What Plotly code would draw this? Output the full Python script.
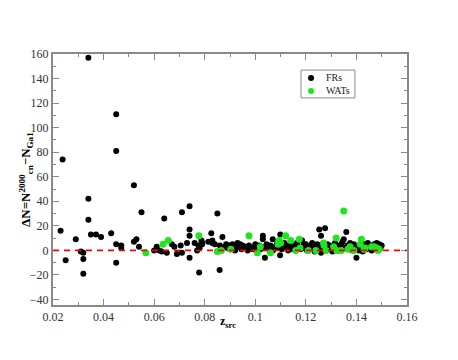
import plotly.graph_objects as go

# FRs (black points): z_src and Delta N
fr_z = [0.023, 0.0238, 0.025, 0.029, 0.031, 0.032, 0.032, 0.032, 0.034, 0.034, 0.034, 0.035,
        0.037, 0.039, 0.043, 0.045, 0.045, 0.045, 0.045, 0.047, 0.047, 0.052, 0.052, 0.053,
        0.054, 0.055, 0.060, 0.061, 0.062, 0.063, 0.064, 0.065, 0.067, 0.068, 0.069, 0.0705,
        0.071, 0.071, 0.073, 0.074, 0.074, 0.074, 0.074, 0.076, 0.077, 0.0775, 0.078, 0.0778,
        0.079, 0.0787, 0.079, 0.0814, 0.0826, 0.083, 0.083, 0.084, 0.085, 0.0859, 0.086, 0.087,
        0.087,
        0.088, 0.0885, 0.089, 0.0895, 0.090, 0.0905, 0.091, 0.0915, 0.092, 0.0925, 0.093, 0.0935,
        0.094, 0.0945, 0.095, 0.0955, 0.096, 0.097, 0.0975, 0.098, 0.099, 0.0995, 0.100, 0.1005,
        0.101, 0.1015, 0.102, 0.103, 0.103, 0.1025, 0.1038, 0.104, 0.1045, 0.105, 0.1055, 0.106,
        0.1069, 0.1065, 0.107, 0.108, 0.1085, 0.109, 0.1099, 0.1098, 0.110, 0.1105, 0.111, 0.1115,
        0.112, 0.1125, 0.113, 0.1135, 0.114, 0.1145, 0.115, 0.1155, 0.116, 0.1165, 0.117, 0.1185,
        0.118, 0.119, 0.1195, 0.120, 0.1205, 0.121, 0.1215, 0.122, 0.1225, 0.123, 0.1235, 0.124,
        0.1245, 0.1253, 0.126, 0.1276, 0.125, 0.1255, 0.126, 0.1265, 0.127, 0.1275, 0.128, 0.1285,
        0.129, 0.1295, 0.130, 0.1305, 0.131, 0.1315, 0.132, 0.1325, 0.133, 0.1335, 0.134, 0.1345,
        0.135, 0.1355, 0.136, 0.1365, 0.137, 0.1375, 0.138, 0.1385, 0.139, 0.1395, 0.140, 0.1405,
        0.141, 0.1415, 0.142, 0.1425, 0.143, 0.1435, 0.144, 0.1445, 0.145, 0.1455, 0.146, 0.1465,
        0.147, 0.1475, 0.148, 0.1485, 0.149, 0.1495, 0.150]
fr_dn = [16, 74, -8, 9, -1, -2, -7, -19, 157, 42, 25, 13,
         13, 11, 14, 111, 81, 5, -10, 4, 2, 53, 7, 9,
         3, 31, 0, 3, 0, -1, 26, -2, 5, 3, -3, 4,
         31, -2, 6, 36, 17, 12, -6, 6, 0, 4, 2, -18,
         6, 8, 5, 7, 14, 6, 8, 5, 30, -16, 4, 11,
         2,
         3, 5, 2, 4, 1, 3, 5, 2, 0, 4, 6, 3,
         5, 1, 4, 2, 3, 0, 4, 2, 1, 3, 5, 0,
         2, 4, 1, 12, 9, 3, -6, 2, 5, 3, 1, 4,
         9, 2, 0, 3, 5, 2, 13, -4, 4, 1, 3, 6,
         2, 4, 0, 3, 5, 2, 1, 4, 2, 6, 3, 8,
         1, 4, 2, 5, 0, 3, 1, 4, 6, 2, -1, 3,
         5, 17, 12, 18, 1, 4, -2, 2, 6, 0, 3, 5,
         1, 4, 2, -1, 3, 6, 2, 4, 0, 3, 5, 7,
         9, 2, 15, 4, 1, 6, 3, 0, 5, 2, -6, 3,
         0, 4, 2, -1, 5, 3, 1, 6, 2, 4, 0, 3,
         5, 1, 6, 3, 5, 2, 4]

# WATs (green points)
wat_z = [0.0567, 0.0635, 0.0656, 0.0777, 0.085, 0.0866, 0.0903, 0.0975, 0.1008, 0.102, 0.106,
         0.109, 0.1095, 0.110, 0.112, 0.114, 0.1174, 0.116, 0.1177, 0.121, 0.124, 0.127, 0.1272,
         0.128, 0.131, 0.132, 0.1322, 0.134, 0.135, 0.1366, 0.1375, 0.139, 0.1415, 0.142, 0.143,
         0.1435, 0.146, 0.147, 0.148, 0.1485, 0.149]
wat_dn = [-2, 5, 8, 12, -1, 0, 1, 12, -2, 3, -2,
          5, 8, 6, 12, 8, 9, 0, 2, 0, 0, 6, 4,
          0, 3, 10, 0, 0, 32, 1, 3, 0, 5, 9, 1,
          2, 3, 3, 2, 0, 1]

x_ticks = [0.02, 0.04, 0.06, 0.08, 0.1, 0.12, 0.14, 0.16]
y_ticks = [-40, -20, 0, 20, 40, 60, 80, 100, 120, 140, 160]

serif = "Liberation Serif, Times New Roman, serif"
axcol = "#8a8a8a"

fig = go.Figure()
fig.add_trace(go.Scatter(x=fr_z, y=fr_dn, mode="markers", name="FRs",
                         marker=dict(color="black", size=6, line=dict(width=0))))
fig.add_trace(go.Scatter(x=wat_z, y=wat_dn, mode="markers", name="WATs",
                         marker=dict(color="#1ee61e", size=7, line=dict(width=0))))

# zero line
fig.add_shape(type="line", xref="x", yref="y", x0=0.02, x1=0.16, y0=0, y1=0,
              line=dict(color="red", width=1.6, dash="6px,5px"))

axis = dict(showline=True, linecolor=axcol, linewidth=2, mirror="allticks",
            ticks="inside", tickcolor=axcol, tickwidth=1, ticklen=6,
            showgrid=False, zeroline=False,
            tickfont=dict(family=serif, size=12, color="#333"))
fig.update_xaxes(range=[0.02, 0.16], tickvals=x_ticks,
                 ticktext=[f"{v:g}" for v in x_ticks],
                 minor=dict(ticks="inside", ticklen=3, dtick=0.01, tick0=0.02,
                            tickcolor=axcol, showgrid=False), **axis)
fig.update_yaxes(range=[-44.5, 160], tickvals=y_ticks,
                 minor=dict(ticks="inside", ticklen=3, dtick=10, tick0=0,
                            tickcolor=axcol, showgrid=False), **axis)

# axis titles
fig.add_annotation(xref="paper", yref="paper", x=-0.078, y=0.5, textangle=-90,
                   xanchor="center", yanchor="middle",
                   text="<b>ΔN=N<sup>2000</sup><sub>cn</sub>−N<sub>Ga1</sub></b>",
                   showarrow=False, font=dict(family=serif, size=13, color="black"))
fig.add_annotation(xref="paper", yref="paper", x=0.494, y=-0.068, yanchor="middle",
                   text="<b>z<sub>src</sub></b>",
                   showarrow=False, font=dict(family=serif, size=12, color="black"))

# legend box drawn by hand
fig.add_shape(type="rect", xref="paper", yref="paper", x0=0.7006, x1=0.853, y0=0.825, y1=0.936,
              line=dict(color=axcol, width=1), fillcolor="white")
for yy, col in [(0.904, "black"), (0.853, "#1ee61e")]:
    fig.add_shape(type="circle", xref="paper", yref="paper",
                  x0=0.729 - 0.0085, x1=0.729 + 0.0085, y0=yy - 0.012, y1=yy + 0.012,
                  fillcolor=col, line=dict(width=0))
fig.add_annotation(xref="paper", yref="paper", x=0.768, y=0.8785, xanchor="left",
                   yanchor="middle", align="left", text="FRs<br>WATs", showarrow=False,
                   borderpad=0, font=dict(family=serif, size=10, color="#222"))

fig.update_layout(width=458, height=360, showlegend=False,
                  margin=dict(l=53, r=51, t=54, b=55),
                  paper_bgcolor="white", plot_bgcolor="white")
fig.write_html("out.html", config={"displayModeBar": False},
               post_script="document.body.style.margin='0';")
